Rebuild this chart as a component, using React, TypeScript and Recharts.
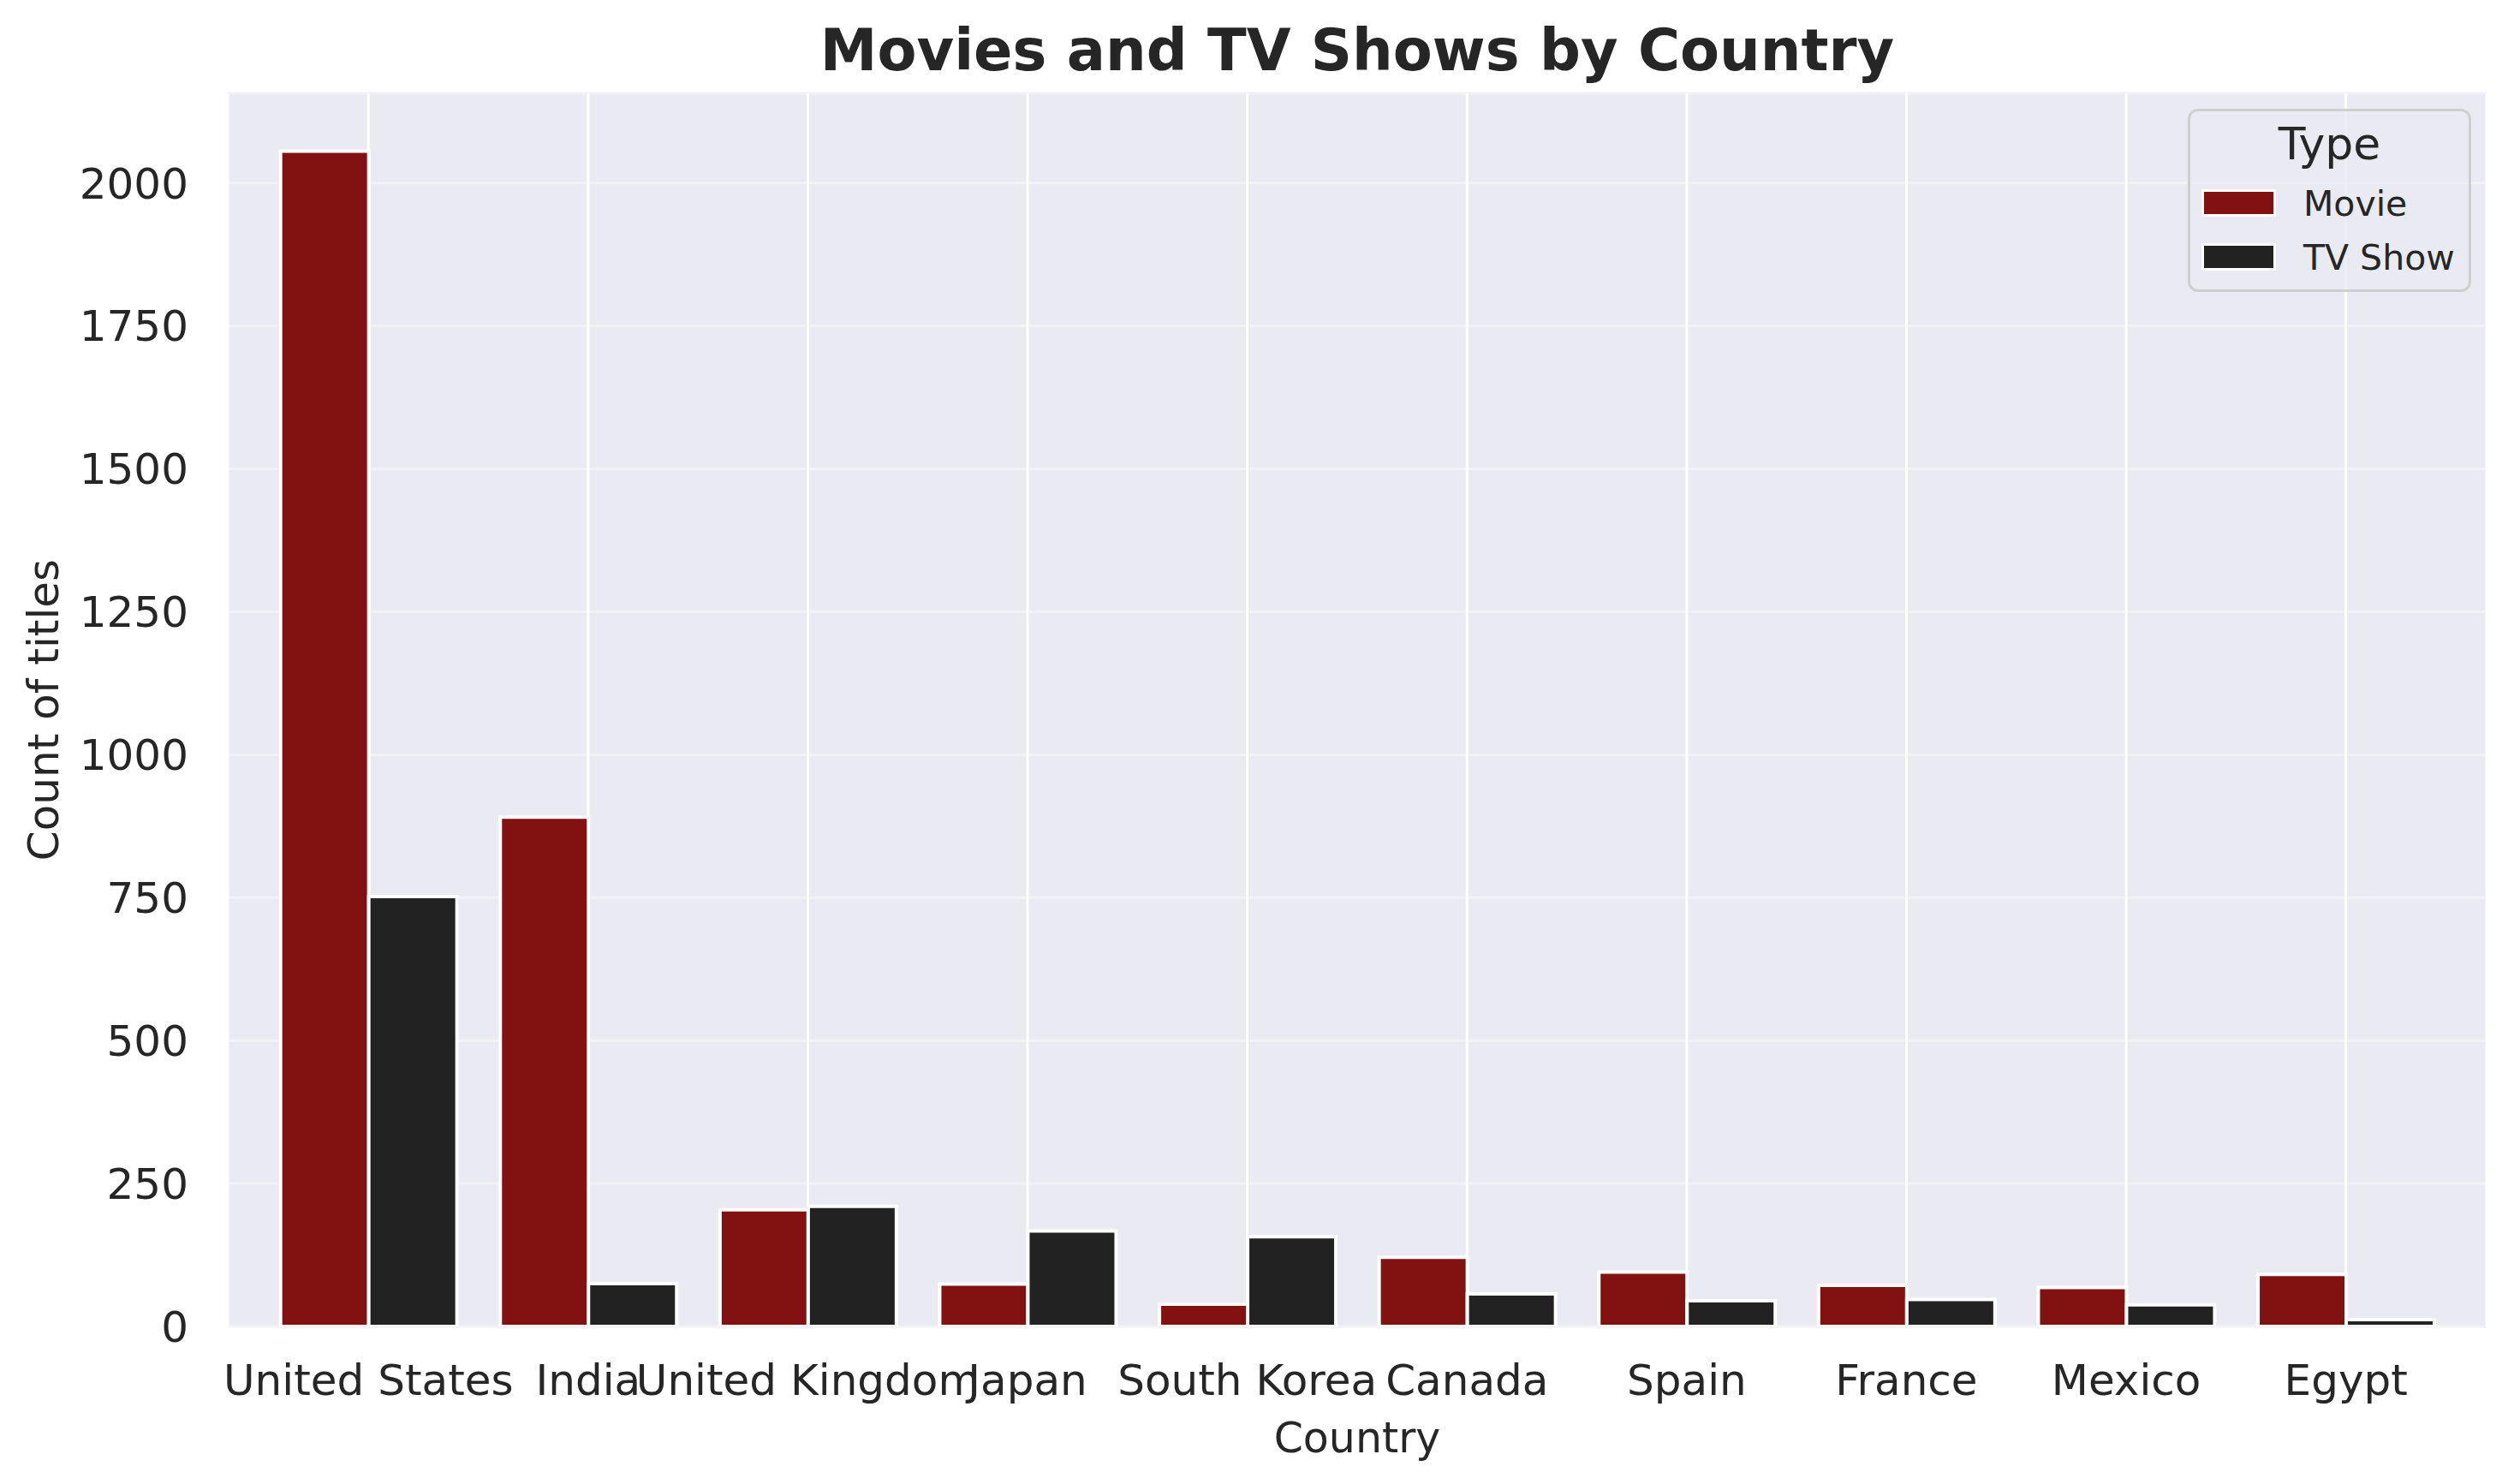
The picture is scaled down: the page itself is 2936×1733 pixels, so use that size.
import React from 'react';
import { Bar, BarChart, CartesianGrid, Legend, XAxis, YAxis } from 'recharts';

const countries = [
  'United States',
  'India',
  'United Kingdom',
  'Japan',
  'South Korea',
  'Canada',
  'Spain',
  'France',
  'Mexico',
  'Egypt',
];
const movieCounts = [2056, 891, 204, 74, 39, 121, 95, 72, 68, 91];
const tvShowCounts = [752, 75, 210, 167, 157, 57, 45, 47, 38, 12];
const yTicks = [0, 250, 500, 750, 1000, 1250, 1500, 1750, 2000];

const data = countries.map((country, i) => ({
  country,
  Movie: movieCounts[i],
  'TV Show': tvShowCounts[i],
}));

const FONT = "'DejaVu Sans', sans-serif";
const TEXT = '#262626';
const MOVIE_RED = '#821111';
const TV_BLACK = '#232223';

const YLabel = ({ viewBox }: any) => {
  const x = viewBox.x + 68;
  const y = viewBox.y + viewBox.height / 2;
  return (
    <text
      x={x}
      y={y}
      transform={`rotate(-90, ${x}, ${y})`}
      textAnchor='middle'
      fontSize={50}
      fontFamily={FONT}
      fill={TEXT}
    >
      Count of titles
    </text>
  );
};

const XLabel = ({ viewBox }: any) => (
  <text
    x={viewBox.x + viewBox.width / 2}
    y={viewBox.y + 147}
    textAnchor='middle'
    fontSize={49}
    fontFamily={FONT}
    fill={TEXT}
  >
    Country
  </text>
);

// legend box drawn like matplotlib's: title on top, patches with white edge
const TypeLegend = ({ payload }: any) => (
  <div
    style={{
      position: 'relative',
      width: 331,
      height: 214,
      boxSizing: 'border-box',
      border: '3px solid #cfcfcf',
      borderRadius: 12,
      background: 'rgba(234,234,242,0.8)',
      fontFamily: FONT,
      color: TEXT,
    }}
  >
    <div
      style={{
        position: 'absolute',
        left: 0,
        right: 0,
        top: 12,
        textAlign: 'center',
        fontSize: 52,
        lineHeight: '52px',
      }}
    >
      Type
    </div>
    {(payload || []).map((entry: any, i: number) => (
      <React.Fragment key={entry.value}>
        <div
          style={{
            position: 'absolute',
            left: 13,
            top: 91 + i * 63,
            width: 87,
            height: 32,
            boxSizing: 'border-box',
            border: '3px solid #fff',
            background: entry.color,
          }}
        />
        <div
          style={{
            position: 'absolute',
            left: 132,
            top: 88 + i * 63,
            fontSize: 41,
            lineHeight: '41px',
            whiteSpace: 'nowrap',
          }}
        >
          {entry.value}
        </div>
      </React.Fragment>
    ))}
  </div>
);

export default function App() {
  return (
    <div
      style={{
        position: 'absolute',
        left: 0,
        top: 0,
        width: 2936,
        height: 1733,
        background: '#fff',
      }}
    >
      <div
        style={{
          position: 'absolute',
          left: 266,
          width: 2638,
          top: 26,
          textAlign: 'center',
          fontFamily: FONT,
          fontWeight: 'bold',
          fontSize: 67,
          lineHeight: '67px',
          color: TEXT,
          zIndex: 2,
        }}
      >
        Movies and TV Shows by Country
      </div>
      <BarChart
        width={2936}
        height={1733}
        data={data}
        margin={{ top: 109, right: 32, bottom: 0, left: 0 }}
        barCategoryGap='10%'
        barGap={0}
      >
        <CartesianGrid
          vertical={false}
          stroke='#f2f2f6'
          strokeWidth={3}
          fill='#eaeaf2'
          fillOpacity={1}
        />
        <CartesianGrid horizontal={false} stroke='#ffffff' strokeWidth={3} />
        <XAxis
          dataKey='country'
          interval={0}
          height={184}
          padding={{ left: 36, right: 36 }}
          axisLine={false}
          tickLine={false}
          tickSize={0}
          tickMargin={44}
          tick={{ fontSize: 50, fill: TEXT, fontFamily: FONT }}
          label={<XLabel />}
        />
        <YAxis
          width={266}
          domain={[0, 2157]}
          ticks={yTicks}
          allowDataOverflow
          axisLine={false}
          tickLine={false}
          tickSize={0}
          tickMargin={46}
          tick={{ fontSize: 50, fill: TEXT, fontFamily: FONT }}
          label={<YLabel />}
        />
        <Legend
          layout='horizontal'
          verticalAlign='middle'
          align='center'
          content={<TypeLegend />}
          wrapperStyle={{ left: 2555, top: 127, width: 331, height: 214 }}
        />
        <Bar
          dataKey='Movie'
          fill={MOVIE_RED}
          stroke='#ffffff'
          strokeWidth={4}
          isAnimationActive={false}
        />
        <Bar
          dataKey='TV Show'
          fill={TV_BLACK}
          stroke='#ffffff'
          strokeWidth={4}
          isAnimationActive={false}
        />
      </BarChart>
    </div>
  );
}
